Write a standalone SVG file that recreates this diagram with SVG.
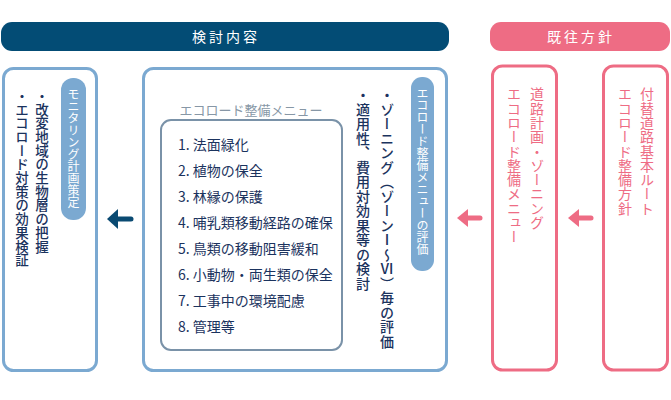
<svg xmlns="http://www.w3.org/2000/svg" width="671" height="400" viewBox="0 0 671 400">
<style>
text{font-family:"Noto Sans CJK JP","Noto Sans",sans-serif;}
.hdr{fill:#fff;font-size:14px;letter-spacing:3px;text-anchor:middle;}
.bbox{fill:#fff;stroke:#7BA9D1;stroke-width:3;}
.pbox{fill:#fff;stroke:#EE6C84;stroke-width:3;}
.pill{fill:#7BA9D1;}
.pilltxt{fill:#fff;font-size:12px;writing-mode:vertical-rl;}
.vnavy{fill:#1B335E;font-size:14px;writing-mode:vertical-rl;font-weight:500;letter-spacing:0.5px;}
.vnavyS{fill:#1B335E;font-size:13.5px;writing-mode:vertical-rl;font-weight:500;letter-spacing:0.2px;}
.vpink{fill:#EE6C84;font-size:14px;writing-mode:vertical-rl;letter-spacing:0.3px;}
.item{fill:#1B335E;font-size:14px;}
.ttl{fill:#8797A6;font-size:13px;text-anchor:middle;}
.inner{fill:none;stroke:#7A92A8;stroke-width:2;}
.ab{stroke:#0A4A72;stroke-width:5;stroke-linecap:round;fill:none;}
.ap{stroke:#EE6C84;stroke-width:5;stroke-linecap:round;fill:none;}
</style>
<defs>
<marker id="hb" markerUnits="userSpaceOnUse" markerWidth="12" markerHeight="20" viewBox="0 0 12 20" refX="0" refY="10" orient="auto"><path d="M0,0 L11,10 L0,20 Z" fill="#0A4A72"/></marker>
<marker id="hp" markerUnits="userSpaceOnUse" markerWidth="12" markerHeight="18" viewBox="0 0 12 18" refX="0" refY="9" orient="auto"><path d="M0,0 L11,9 L0,18 Z" fill="#EE6C84"/></marker>
</defs>

<g id="header-kento">
<rect x="1" y="22" width="448" height="29" rx="11" fill="#034C75"/>
<text class="hdr" x="226" y="41.5">検討内容</text>
</g>
<g id="header-kiou">
<rect x="490" y="22" width="180" height="29" rx="11" fill="#EE6C84"/>
<text class="hdr" x="581" y="41.5">既往方針</text>
</g>

<g id="monitoring">
<rect class="bbox" x="3.5" y="68.5" width="93" height="302" rx="10"/>
<rect class="pill" x="61" y="78" width="25" height="142" rx="12"/>
<text class="pilltxt" x="73.5" y="88">モニタリング計画策定</text>
<text class="vnavyS" x="42" y="89">・改変地域の生物層の把握</text>
<text class="vnavyS" x="22" y="89">・エコロード対策の効果検証</text>
</g>

<g id="evaluation">
<rect class="bbox" x="143.5" y="68.5" width="303" height="302" rx="10"/>
<rect class="pill" x="411" y="77" width="23" height="194" rx="11"/>
<text class="pilltxt" x="422.5" y="87">エコロード整備メニューの評価</text>
<text class="vnavy" x="387" y="88">・ゾーニング（ゾーンⅠ〜Ⅵ）毎の評価</text>
<text class="vnavy" x="363" y="88">・適用性、費用対効果等の検討</text>
<text class="ttl" x="251" y="115">エコロード整備メニュー</text>
<rect class="inner" x="161" y="120" width="181" height="230" rx="10"/>
<text class="item" x="178" y="150">1. 法面緑化</text>
<text class="item" x="178" y="176">2. 植物の保全</text>
<text class="item" x="178" y="202">3. 林縁の保護</text>
<text class="item" x="178" y="228">4. 哺乳類移動経路の確保</text>
<text class="item" x="178" y="254">5. 鳥類の移動阻害緩和</text>
<text class="item" x="178" y="280">6. 小動物・両生類の保全</text>
<text class="item" x="178" y="306">7. 工事中の環境配慮</text>
<text class="item" x="178" y="332">8. 管理等</text>
</g>

<g id="road-plan">
<rect class="pbox" x="492.5" y="66" width="64" height="304" rx="10"/>
<text class="vpink" x="537" y="87">道路計画・ゾーニング</text>
<text class="vpink" x="514" y="87">エコロード整備メニュー</text>
</g>

<g id="base-route">
<rect class="pbox" x="603.5" y="66" width="64" height="304" rx="10"/>
<text class="vpink" x="647" y="87">付替道路基本ルート</text>
<text class="vpink" x="625" y="87">エコロード整備方針</text>
</g>

<g id="connectors">
<line class="ab" x1="131" y1="219" x2="118" y2="219" marker-end="url(#hb)"/>
<line class="ap" x1="480" y1="218" x2="468" y2="218" marker-end="url(#hp)"/>
<line class="ap" x1="591" y1="218" x2="579" y2="218" marker-end="url(#hp)"/>
</g>
</svg>
